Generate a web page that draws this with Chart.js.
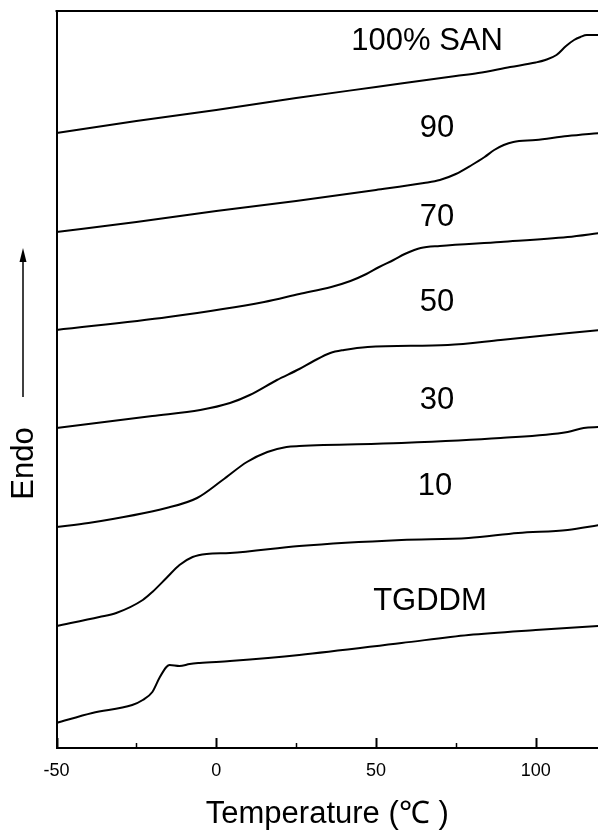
<!DOCTYPE html>
<html>
<head>
<meta charset="utf-8">
<script src="https://cdn.jsdelivr.net/npm/chart.js@4.4.1/dist/chart.umd.min.js"></script>
<style>
  html, body { margin: 0; padding: 0; background: #fff; }
  canvas { display: block; }
</style>
</head>
<body>
<canvas id="dscChart" width="598" height="832"></canvas>
<script>
// temperature axis (°C)
const tempTicks = [-50, 0, 50, 100];
const tempMinorTicks = [-25, 25, 75];

// DSC traces, heat flow in arbitrary units (curves are offset vertically)
const tSan100 = [-50, -25, 0, 25, 50, 75, 82, 92, 100, 103, 106.5, 109.5, 112, 114, 116, 120];
const hSan100 = [61.5, 62.7, 63.8, 65.0, 66.1, 67.2, 67.5, 68.1, 68.55, 68.8, 69.3, 70.2, 70.8, 71.1, 71.3, 71.3];

const tSan90 = [-50, -25, 0, 25, 50, 65, 70, 75, 80, 84, 87, 90, 93, 100, 110, 120];
const hSan90 = [51.6, 52.6, 53.7, 54.7, 55.8, 56.5, 56.8, 57.4, 58.3, 59.1, 59.8, 60.3, 60.6, 60.8, 61.2, 61.5];

const tSan70 = [-50, -15, 15, 26, 36, 42, 47, 51, 55.5, 59, 62, 64, 70, 89, 110, 120];
const hSan70 = [41.8, 43.1, 44.6, 45.4, 46.1, 46.7, 47.4, 48.1, 48.8, 49.4, 49.8, 50.0, 50.2, 50.6, 51.1, 51.5];

const tSan50 = [-50, -20, -5, 4.3, 10.5, 19, 26, 30.5, 35.7, 40, 47.4, 72.5, 89, 120];
const hSan50 = [32.0, 33.2, 33.8, 34.5, 35.3, 36.8, 37.9, 38.7, 39.5, 39.8, 40.1, 40.3, 40.8, 41.8];

const tSan30 = [-50, -40, -15.6, -6, 2, 9.6, 16, 22, 26, 58, 89, 110, 115, 120];
const hSan30 = [22.1, 22.5, 24.0, 25.0, 26.8, 28.6, 29.6, 30.1, 30.2, 30.5, 31.0, 31.6, 32.0, 32.1];

const tSan10 = [-50, -36.6, -31.3, -23, -20, -15.6, -11.5, -7.4, -3, 4.3, 26, 58, 79, 94.5, 110, 120];
const hSan10 = [12.2, 13.1, 13.5, 14.8, 15.6, 17.0, 18.3, 19.1, 19.4, 19.5, 20.2, 20.8, 21.0, 21.5, 21.8, 22.3];

const tTgddm = [-50, -38.8, -26.3, -23, -20, -17.8, -15.6, -14.6, -11.5, -8.3, -5.2, 4.3, 26, 58, 79, 100, 120];
const hTgddm = [2.5, 3.5, 4.3, 4.8, 5.6, 7.0, 8.1, 8.3, 8.2, 8.4, 8.5, 8.7, 9.3, 10.5, 11.3, 11.8, 12.2];

// curve labels, placed in data coordinates
const sampleNames = ["100% SAN", "90", "70", "50", "30", "10", "TGDDM"];
const labelTemps = [66.0, 69.1, 69.1, 69.1, 69.1, 68.5, 66.9];
const labelHeights = [70.9, 62.2, 53.3, 44.8, 35.0, 26.4, 14.9];

const FONT = '"Liberation Sans", Arial, sans-serif';

const traces = [
  [tSan100, hSan100], [tSan90, hSan90], [tSan70, hSan70], [tSan50, hSan50],
  [tSan30, hSan30], [tSan10, hSan10], [tTgddm, hTgddm]
];

const datasets = traces.map((tr, i) => ({
  label: sampleNames[i],
  data: tr[0].map((t, j) => ({ x: t, y: tr[1][j] })),
  borderColor: "#000",
  borderWidth: 2,
  pointRadius: 0,
  fill: false,
  cubicInterpolationMode: "monotone"
}));

const decorations = {
  id: "decorations",
  afterDraw(chart) {
    const { ctx, chartArea, scales } = chart;
    const xs = scales.x, ys = scales.y;
    ctx.save();
    ctx.strokeStyle = "#000";
    ctx.fillStyle = "#000";

    // top frame line
    ctx.lineWidth = 2;
    ctx.beginPath();
    ctx.moveTo(chartArea.left - 1, chartArea.top);
    ctx.lineTo(chartArea.right, chartArea.top);
    ctx.stroke();

    // inward tick marks
    tempTicks.forEach(v => {
      const px = Math.round(xs.getPixelForValue(v)) + 0.5;
      ctx.lineWidth = 2;
      ctx.beginPath();
      ctx.moveTo(px, chartArea.bottom);
      ctx.lineTo(px, chartArea.bottom - 10);
      ctx.stroke();
    });
    tempMinorTicks.forEach(v => {
      const px = Math.round(xs.getPixelForValue(v)) + 0.5;
      ctx.lineWidth = 1.5;
      ctx.beginPath();
      ctx.moveTo(px, chartArea.bottom);
      ctx.lineTo(px, chartArea.bottom - 5);
      ctx.stroke();
    });

    // curve labels
    const size = 31;
    ctx.font = size + "px " + FONT;
    ctx.textAlign = "center";
    ctx.textBaseline = "alphabetic";
    sampleNames.forEach((name, i) => {
      const px = xs.getPixelForValue(labelTemps[i]);
      const py = ys.getPixelForValue(labelHeights[i]);
      ctx.fillText(name, px, py + size * 0.716 / 2);
    });

    // rotated "Endo" with arrow
    ctx.save();
    ctx.translate(33, 463.5);
    ctx.rotate(-Math.PI / 2);
    ctx.fillText("Endo", 0, 0);
    ctx.restore();

    ctx.lineWidth = 1.5;
    ctx.beginPath();
    ctx.moveTo(23, 397);
    ctx.lineTo(23, 258);
    ctx.stroke();
    ctx.beginPath();
    ctx.moveTo(23, 248);
    ctx.lineTo(19.5, 262);
    ctx.lineTo(26.5, 262);
    ctx.closePath();
    ctx.fill();

    ctx.restore();
  }
};

new Chart(document.getElementById("dscChart").getContext("2d"), {
  type: "line",
  data: { datasets },
  options: {
    responsive: false,
    animation: false,
    events: [],
    layout: { padding: { top: 11, right: 0, bottom: 0, left: 0 } },
    scales: {
      x: {
        type: "linear",
        min: -50,
        max: 119.5,
        afterBuildTicks: scale => { scale.ticks = tempTicks.map(v => ({ value: v })); },
        afterFit: scale => { scale.height = 84; },
        ticks: {
          color: "#000",
          padding: 12,
          maxRotation: 0,
          font: { family: FONT, size: 18 }
        },
        grid: { display: false, drawTicks: false },
        border: { display: true, color: "#000", width: 2 },
        title: {
          display: true,
          text: "Temperature (℃ )",
          color: "#000",
          font: { family: FONT, size: 31, lineHeight: 1 },
          padding: { top: 0, bottom: 2 }
        }
      },
      y: {
        type: "linear",
        min: 0,
        max: 73.7,
        afterFit: scale => { scale.width = 56.5; },
        ticks: { display: false },
        grid: { display: false, drawTicks: false },
        border: { display: true, color: "#000", width: 2 }
      }
    },
    plugins: {
      legend: { display: false },
      tooltip: { enabled: false }
    }
  },
  plugins: [decorations]
});
</script>
</body>
</html>
